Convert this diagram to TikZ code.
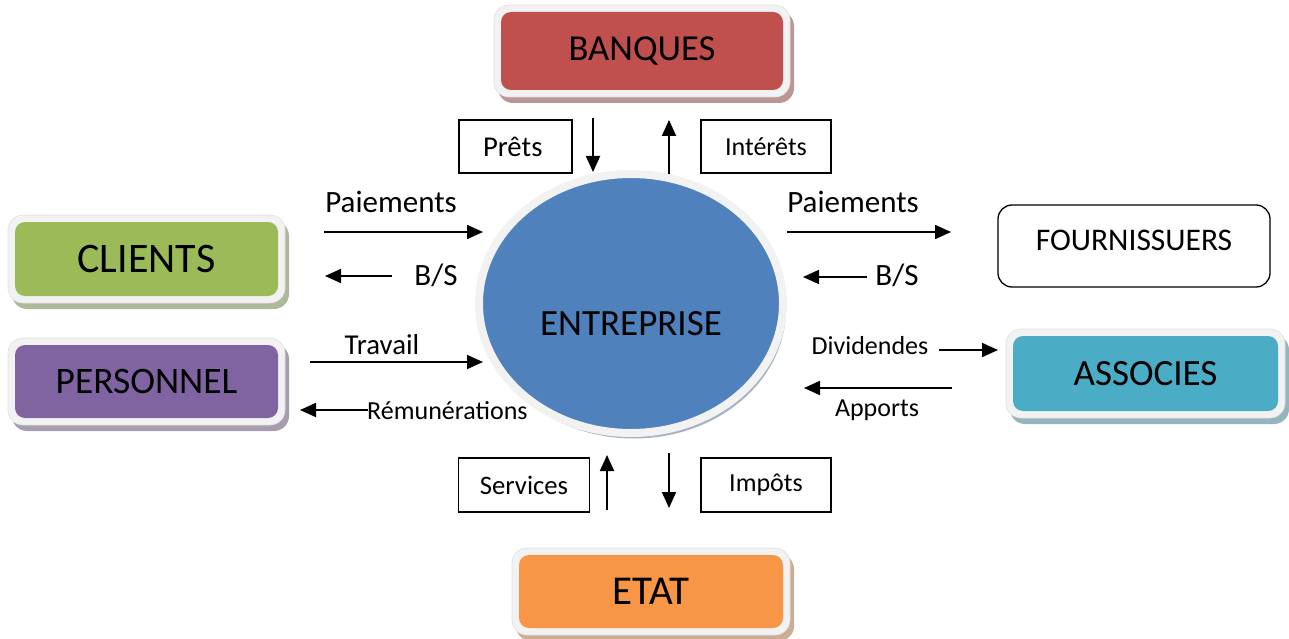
\documentclass[tikz,border=0pt]{standalone}
\usepackage{fontspec}
\setmainfont{Carlito}
\usetikzlibrary{arrows.meta,shapes.geometric}
\definecolor{cred}{HTML}{C0504D}
\definecolor{cgreen}{HTML}{9BBB59}
\definecolor{cpurple}{HTML}{8064A2}
\definecolor{ccyan}{HTML}{4BACC6}
\definecolor{corange}{HTML}{F79646}
\definecolor{cblue}{HTML}{4F81BD}
\definecolor{boxgray}{HTML}{F2F2F2}
\tikzset{
  arr/.style={line width=1.8pt, -{Triangle[length=16pt,width=14pt]}},
  lbl/.style={inner sep=0pt, font=\fontsize{26}{30}\selectfont},
  lblb/.style={inner sep=0pt, font=\fontsize{31}{36}\selectfont},
  tagbox/.style={draw, line width=1.3pt, inner sep=0pt, font=\fontsize{26}{30}\selectfont},
  outerbox/.style={fill=boxgray, draw=black!12, line width=0.6pt, rounded corners=15pt, inner sep=0pt},
  innerbox/.style={rounded corners=10pt, inner sep=0pt, text=black},
  shadowbox/.style={rounded corners=15pt, inner sep=0pt},
}
% name, cx, cy, w, h, colour, fontsize, text
\newcommand\colbox[8]{%
  \node[shadowbox, fill=#6!45!gray!70, minimum width=#4pt+14pt, minimum height=#5pt+14pt] (#1s) at (#2+4,#3+6) {};
  \node[outerbox, minimum width=#4pt+14pt, minimum height=#5pt+14pt] (#1o) at (#2,#3) {};
  \node[innerbox, fill=#6, minimum width=#4pt, minimum height=#5pt, font=\fontsize{#7}{#7}\selectfont] (#1) at (#2,#3) {#8};
}
\begin{document}
\begin{tikzpicture}[x=1pt,y=-1pt]
\useasboundingbox (0,0) rectangle (1289,639);

% coloured boxes
\colbox{banques}{642}{51}{282}{78}{cred}{36.6}{BANQUES}
\colbox{clients}{146.5}{259}{263}{74}{cgreen}{42}{CLIENTS}
\colbox{personnel}{146.5}{381.5}{263}{73}{cpurple}{37.4}{PERSONNEL}
\colbox{associes}{1145.5}{373.5}{265}{75}{ccyan}{37}{ASSOCIES}
\colbox{etat}{651}{591.5}{264}{73}{corange}{41}{ETAT}

% fournisseurs
\node[draw, line width=1.3pt, rounded corners=14pt, fill=white, minimum width=272pt, minimum height=82pt, inner sep=0pt,
  label={[font=\fontsize{31.5}{36}\selectfont, yshift=6pt]center:FOURNISSUERS}] (fourn) at (1134,246) {};

% entreprise
\node[ellipse, fill=cblue!45!gray!60, minimum width=304pt, minimum height=259pt, inner sep=0pt] (ents) at (634,309) {};
\node[ellipse, fill=cblue, draw=boxgray, line width=8pt, minimum width=304pt, minimum height=259pt, inner sep=0pt,
  label={[font=\fontsize{37}{40}\selectfont, yshift=-20pt]center:ENTREPRISE}] (ent) at (631,303.5) {};

% tag boxes
\node[tagbox, minimum width=113pt, minimum height=53pt, font=\fontsize{28.7}{32}\selectfont,
  text width=95pt, align=left, inner xsep=0pt] (prets) at (515.5,146.5) {\hspace*{15pt}Prêts};
\node[tagbox, minimum width=130pt, minimum height=53pt] (interets) at (766,146.5) {Intérêts};
\node[tagbox, minimum width=131pt, minimum height=54pt, font=\fontsize{26.7}{30}\selectfont] (services) at (524,485) {Services};
\node[tagbox, minimum width=130pt, minimum height=54pt] (impots) at (766,485) {Impôts};

% arrow end points
\coordinate (p1a) at (593,118);  \coordinate (p1b) at (593,172);
\coordinate (i1a) at (669,174);  \coordinate (i1b) at (669,120);
\coordinate (s1a) at (607,510);  \coordinate (s1b) at (607,455);
\coordinate (t1a) at (669,453);  \coordinate (t1b) at (669,508);
\coordinate (lpa) at (324,232);  \coordinate (lpb) at (483,232);
\coordinate (lba) at (392,276);  \coordinate (lbb) at (325,276);
\coordinate (lta) at (310,362);  \coordinate (ltb) at (483,362);
\coordinate (lra) at (368,410);  \coordinate (lrb) at (300,410);
\coordinate (rpa) at (787,232);  \coordinate (rpb) at (951,232);
\coordinate (rba) at (867,277);  \coordinate (rbb) at (803,277);
\coordinate (rda) at (939,350);  \coordinate (rdb) at (998,350);
\coordinate (raa) at (952,388);  \coordinate (rab) at (804,388);

\draw[arr] (p1a) -- (p1b);
\draw[arr] (i1a) -- (i1b);
\draw[arr] (s1a) -- (s1b);
\draw[arr] (t1a) -- (t1b);
\draw[arr] (lpa) -- (lpb);
\draw[arr] (lba) -- (lbb);
\draw[arr] (lta) -- (ltb);
\draw[arr] (lra) -- (lrb);
\draw[arr] (rpa) -- (rpb);
\draw[arr] (rba) -- (rbb);
\draw[arr] (rda) -- (rdb);
\draw[arr] (raa) -- (rab);

% labels
\node[lblb] (lpay) at (391,202) {Paiements};
\node[lblb] (lbs) at (436,275) {B/S};
\node[lbl, font=\fontsize{28.8}{32}\selectfont] (ltrav) at (382,345) {Travail};
\node[lbl, anchor=west] (lrem) at (367,411) {Rémunérations};
\node[lblb] (rpay) at (853,202) {Paiements};
\node[lblb] (rbs) at (897,275) {B/S};
\node[lbl] (rdiv) at (870,346) {Dividendes};
\node[lbl] (rapp) at (877,410) {Apports};
\end{tikzpicture}
\end{document}
